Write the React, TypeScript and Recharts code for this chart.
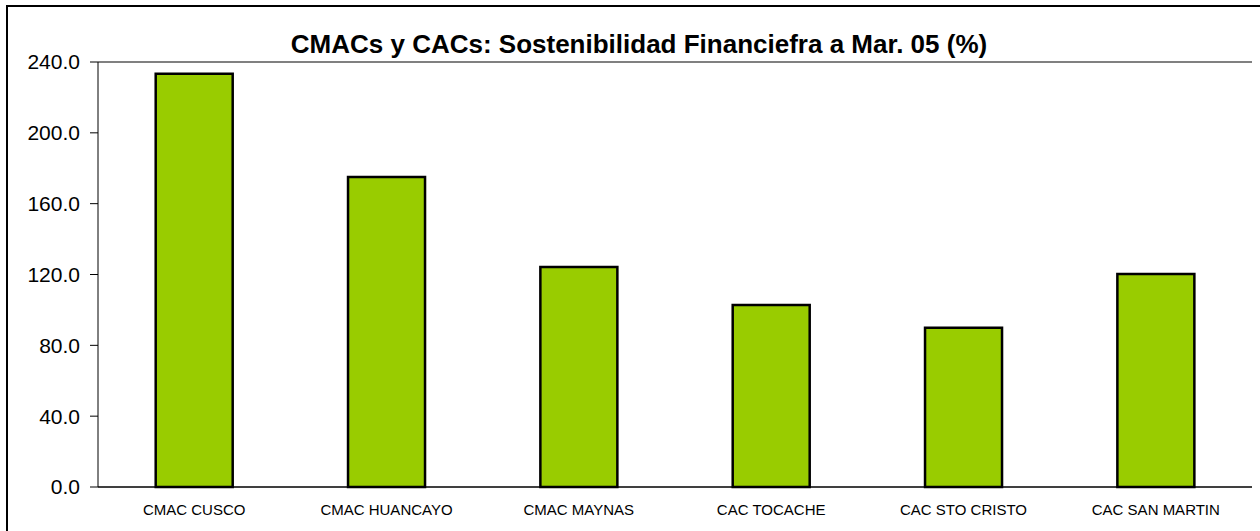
import React from "react";
import {
  BarChart,
  Bar,
  XAxis,
  YAxis,
  CartesianGrid,
  ReferenceLine,
} from "recharts";

const categories = [
  "CMAC CUSCO",
  "CMAC HUANCAYO",
  "CMAC MAYNAS",
  "CAC TOCACHE",
  "CAC STO CRISTO",
  "CAC SAN MARTIN",
];
const sostenibilidad = [233.3, 175.0, 124.2, 102.8, 90.0, 120.3];
const yTicks = [0, 40, 80, 120, 160, 200, 240];

const data = categories.map((name, i) => ({ name, value: sostenibilidad[i] }));

const FONT = "'Liberation Sans', Arial, sans-serif";

export default function App() {
  return (
    <div
      style={{
        position: "absolute",
        left: 0,
        top: 0,
        width: 1260,
        height: 531,
        background: "#fff",
        overflow: "hidden",
        fontFamily: FONT,
      }}
    >
      <div
        style={{
          position: "absolute",
          left: 6,
          top: 5,
          width: 1300,
          height: 600,
          borderLeft: "2px solid #000",
          borderTop: "2px solid #000",
        }}
      />
      <div
        style={{
          position: "absolute",
          left: 0,
          top: 29,
          width: 1278,
          textAlign: "center",
          fontWeight: "bold",
          fontSize: 26,
          lineHeight: "30px",
          color: "#000",
        }}
      >
        CMACs y CACs: Sostenibilidad Financiefra a Mar. 05 (%)
      </div>
      <div style={{ position: "absolute", left: 0, top: 0 }}>
        <BarChart
          width={1260}
          height={531}
          data={data}
          margin={{ top: 62, right: 8, left: 0, bottom: 0 }}
          barCategoryGap="30%"
        >
          <CartesianGrid vertical={false} stroke="#000" strokeWidth={1} />
          <XAxis
            dataKey="name"
            height={44}
            axisLine={{ stroke: "#000", strokeWidth: 1 }}
            tickLine={false}
            tick={{ fill: "#000", fontSize: 15, fontFamily: FONT }}
            tickMargin={11}
            interval={0}
          />
          <YAxis
            yAxisId="left"
            width={98}
            domain={[0, 240]}
            ticks={yTicks}
            tickFormatter={(v: number) => v.toFixed(1)}
            axisLine={{ stroke: "#000", strokeWidth: 1 }}
            tickLine={{ stroke: "#000" }}
            tickSize={8}
            tick={{ fill: "#000", fontSize: 21, fontFamily: FONT }}
            tickMargin={10}
          />
          <YAxis
            yAxisId="right"
            orientation="right"
            width={0}
            domain={[0, 240]}
            tick={false}
            tickLine={false}
            axisLine={{ stroke: "#808080", strokeWidth: 2 }}
          />
          <ReferenceLine
            yAxisId="left"
            y={240}
            stroke="#808080"
            strokeWidth={2}
          />
          <Bar
            yAxisId="left"
            dataKey="value"
            fill="#99CC00"
            stroke="#000"
            strokeWidth={2.5}
            isAnimationActive={false}
          />
        </BarChart>
      </div>
    </div>
  );
}
